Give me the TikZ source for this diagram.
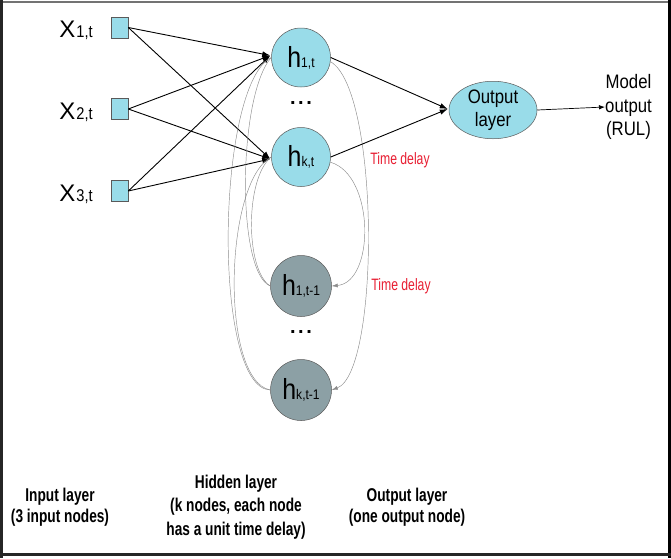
\documentclass[tikz,border=0pt]{standalone}
\usepackage{fontspec}
\setmainfont{Liberation Sans}
\newfontfamily\narrowfont[FakeStretch=0.74]{Liberation Sans}
\newfontfamily\semifont[FakeStretch=0.86]{Liberation Sans}
\usetikzlibrary{arrows.meta,shapes.geometric,calc}
\definecolor{hcyan}{RGB}{153,220,233}
\definecolor{hgray}{RGB}{140,160,165}
\definecolor{tdred}{RGB}{232,30,50}
\definecolor{edgegray}{RGB}{90,90,90}
\begin{document}
\begin{tikzpicture}[x=1pt,y=-1pt,
  inbox/.style={draw=edgegray,fill=hcyan,line width=0.6pt,minimum width=17pt,minimum height=21pt,inner sep=0pt},
  hnow/.style={circle,draw=edgegray,fill=hcyan,line width=0.5pt,minimum size=59pt,inner sep=0pt,font=\semifont\fontsize{29}{29}\selectfont},
  hold/.style={circle,draw=edgegray,fill=hgray,line width=0.5pt,minimum size=61pt,inner sep=0pt,font=\semifont\fontsize{29}{29}\selectfont},
  outnode/.style={ellipse,draw=edgegray,fill=hcyan,line width=0.5pt,minimum width=88pt,minimum height=56pt,inner sep=0pt,align=center,font=\semifont\fontsize{19.5}{23}\selectfont},
  xlabel/.style={inner sep=0pt,font=\fontsize{24}{24}\selectfont},
  dots/.style={inner sep=0pt,font=\bfseries\fontsize{20}{20}\selectfont},
  delaylabel/.style={inner sep=0pt,text=tdred,font=\narrowfont\fontsize{16.5}{16.5}\selectfont},
  layerlabel/.style={inner sep=0pt,align=center,font=\narrowfont\bfseries\fontsize{18.5}{23.5}\selectfont},
  sidelabel/.style={layerlabel,font=\narrowfont\bfseries\fontsize{18.5}{21}\selectfont},
  modeltext/.style={inner sep=0pt,align=center,font=\semifont\fontsize{19.5}{23.5}\selectfont},
  conn/.style={-{Latex[length=8pt,width=5.5pt]},line width=0.9pt,black},
  rec/.style={line width=0.45pt,draw=black!45},
  recarrow/.style={rec,-{Latex[length=6pt,width=4pt]}},
]
\useasboundingbox (0,0) rectangle (671,558);
\fill[white] (0,0) rectangle (671,558);
% frame
\draw[line width=2pt,black!55] (0,1.5) -- (671,1.5);
\draw[line width=2.5pt,black!85] (1.5,0) -- (1.5,558);
\draw[line width=3pt,black] (669.5,0) -- (669.5,558);
\draw[line width=3pt,black!85] (0,554) -- (671,554);

% input nodes
\node[inbox] (x1) at (119.5,27.5) {};
\node[inbox] (x2) at (119.5,109) {};
\node[inbox] (x3) at (119.5,191) {};
\node[xlabel,anchor=base] (lx1) at (76,37) {X\hspace{1pt}{\semifont\fontsize{17}{17}\selectfont 1,t}};
\node[xlabel,anchor=base] (lx2) at (76,119) {X\hspace{1pt}{\semifont\fontsize{17}{17}\selectfont 2,t}};
\node[xlabel,anchor=base] (lx3) at (76,201) {X\hspace{1pt}{\semifont\fontsize{17}{17}\selectfont 3,t}};

% hidden nodes
\node[hnow] (h1) at (301,57.5) {h{\fontsize{14}{14}\selectfont 1,t}};
\node[hnow] (hk) at (301,157) {h{\fontsize{14}{14}\selectfont k,t}};
\node[hold] (d1) at (301,286) {h{\fontsize{14}{14}\selectfont 1,t-1}};
\node[hold] (dk) at (301,390) {h{\fontsize{14}{14}\selectfont k,t-1}};
\node[dots] (dt1) at (301,103) {.\hspace{2.5pt}.\hspace{2.5pt}.};
\node[dots] (dt2) at (301,332) {.\hspace{2.5pt}.\hspace{2.5pt}.};

% output
\node[outnode] (out) at (493,110) {Output\\layer};
\node[modeltext,anchor=west] (model) at (605,107) {Model\\output\\(RUL)};

% labels
\node[delaylabel] (td1) at (400,160) {Time delay};
\node[delaylabel] (td2) at (401,286) {Time delay};
\node[sidelabel] (lin) at (60,507) {Input layer\\(3 input nodes)};
\node[layerlabel] (lhid) at (236,507) {Hidden layer\\(k nodes, each node\\has a unit time delay)};
\node[sidelabel] (lout) at (407,507) {Output layer\\(one output node)};

% input connections
\coordinate (h1in) at ($(h1.west)+(-1,-2)$);
\coordinate (hkin) at ($(hk.west)+(-1,2)$);
\foreach \s in {x1,x2,x3}{
  \draw[conn] (\s.east) -- (h1in);
  \draw[conn] (\s.east) -- (hkin);
}
% recurrent connections (left side, delayed -> current)
\draw[rec] (d1.west) .. controls (245,270) and (245,178) .. (hk.west);
\draw[rec] (d1.west) .. controls (236,272) and (238,95) .. (h1.west);
\draw[rec] (dk.west) .. controls (220,380) and (224,182) .. (hk.west);
\draw[rec] (dk.west) .. controls (212,388) and (216,85) .. (h1.west);
% recurrent connections (right side, current -> delayed)
\draw[recarrow] (hk.-10) .. controls (375,175) and (375,282) .. (d1.east);
\draw[recarrow] (h1.-8) .. controls (380,90) and (380,372) .. (dk.east);

% output connections
\coordinate (outin) at ($(out.west)+(-1,-1)$);
\draw[conn] (h1.east) -- (outin);
\draw[conn] (hk.east) -- (outin);
\draw[-{Latex[length=6pt,width=4.5pt]},line width=0.7pt] (out.east) -- (model.west);
\end{tikzpicture}
\end{document}
